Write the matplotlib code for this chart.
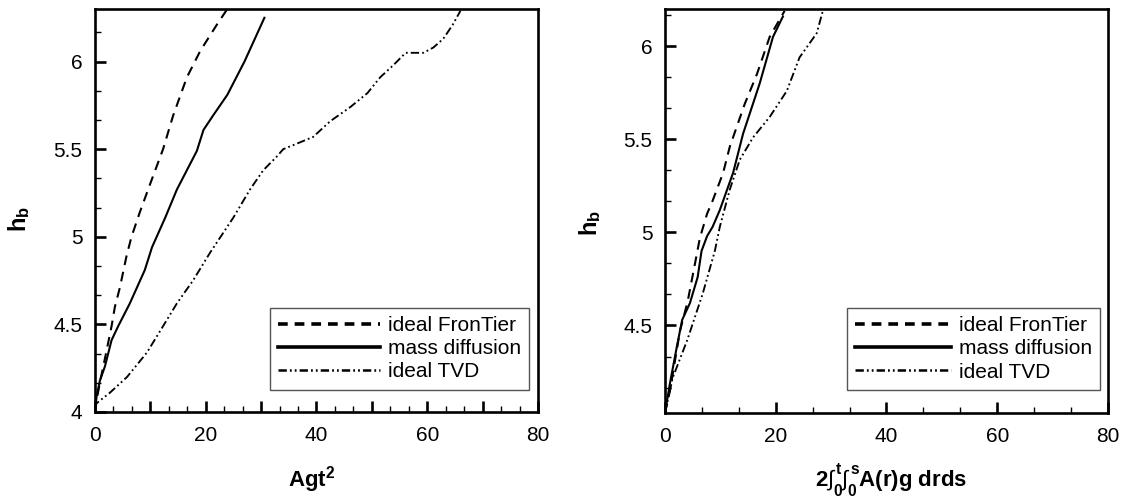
import matplotlib
matplotlib.use("Agg")
import matplotlib.pyplot as plt
from matplotlib.ticker import MultipleLocator, FuncFormatter
from matplotlib.lines import Line2D

plt.rcParams['font.family'] = ['Liberation Sans', 'DejaVu Sans']
plt.rcParams['mathtext.fontset'] = 'custom'
plt.rcParams['mathtext.rm'] = 'Liberation Sans'
plt.rcParams['mathtext.it'] = 'Liberation Sans:italic'
plt.rcParams['mathtext.bf'] = 'Liberation Sans:bold'
plt.rcParams['lines.scale_dashes'] = False

labels = ["ideal FronTier", "mass diffusion", "ideal TVD"]

# Left panel: h_b vs A g t^2
left_frontier_x = [0, 0.2, 0.9, 2.1, 3.0, 3.6, 4.5, 5.7, 6.6, 8.1, 10.3, 12.3, 14.1, 16.6, 19.0, 22.0, 23.9]
left_frontier_y = [4.0, 4.05, 4.17, 4.35, 4.49, 4.60, 4.71, 4.89, 5.00, 5.14, 5.33, 5.50, 5.69, 5.91, 6.06, 6.21, 6.30]
left_mass_x = [0, 0.3, 0.9, 1.8, 3.0, 4.2, 6.3, 9.0, 10.3, 12.7, 14.8, 16.6, 18.4, 19.6, 21.5, 23.9, 27.0, 30.6]
left_mass_y = [4.0, 4.09, 4.18, 4.26, 4.41, 4.49, 4.62, 4.81, 4.94, 5.11, 5.27, 5.38, 5.49, 5.61, 5.70, 5.81, 6.00, 6.25]
left_tvd_x = [0, 0.3, 2.7, 5.8, 9.4, 12.3, 14.8, 17.7, 20.8, 25.0, 28.0, 30.4, 32.9, 34.0, 37.1, 39.4, 42.5, 46.1,
              49.2, 51.5, 53.9, 56.1, 57.5, 59.3, 61.1, 62.9, 64.6, 66.0]
left_tvd_y = [4.02, 4.05, 4.11, 4.20, 4.34, 4.49, 4.62, 4.75, 4.91, 5.11, 5.27, 5.38, 5.46, 5.50, 5.54, 5.57, 5.66, 5.74,
              5.82, 5.91, 5.98, 6.05, 6.05, 6.05, 6.08, 6.13, 6.21, 6.29]

# Right panel: h_b vs 2 int int A(r) g dr ds
right_frontier_x = [0, 0.9, 2.7, 4.1, 5.4, 6.3, 7.6, 8.6, 10.5, 11.7, 14.4, 16.6, 18.9, 21.6]
right_frontier_y = [4.03, 4.15, 4.47, 4.63, 4.83, 4.97, 5.10, 5.17, 5.32, 5.46, 5.69, 5.85, 6.05, 6.19]
right_mass_x = [0, 0.9, 2.1, 3.1, 4.5, 5.9, 6.6, 7.6, 8.6, 9.9, 12.3, 14.1, 17.1, 19.5, 21.3]
right_mass_y = [4.03, 4.19, 4.38, 4.53, 4.62, 4.76, 4.90, 4.98, 5.03, 5.12, 5.32, 5.53, 5.80, 6.05, 6.16]
right_tvd_x = [0, 1.4, 4.0, 6.8, 9.0, 9.9, 11.7, 13.5, 15.9, 18.9, 22.0, 24.3, 27.4, 28.5]
right_tvd_y = [4.03, 4.22, 4.42, 4.67, 4.90, 5.03, 5.23, 5.39, 5.51, 5.62, 5.76, 5.94, 6.07, 6.19]

DASH = (0, (7, 5))
DASHDOT = (0, (6, 2.2, 1.3, 2.2, 1.3, 2.2))

fig = plt.figure(figsize=(11.25, 4.98), dpi=100)
axL = fig.add_axes([0.0844, 0.1727, 0.3938, 0.8092])
axR = fig.add_axes([0.5911, 0.1707, 0.3938, 0.8112])

lw = 1.5
axL.plot(left_frontier_x, left_frontier_y, color='black', lw=lw, linestyle=DASH)
axL.plot(left_mass_x, left_mass_y, color='black', lw=lw, linestyle='-')
axL.plot(left_tvd_x, left_tvd_y, color='black', lw=lw * 0.9, linestyle=DASHDOT)

axR.plot(right_frontier_x, right_frontier_y, color='black', lw=lw, linestyle=DASH)
axR.plot(right_mass_x, right_mass_y, color='black', lw=lw, linestyle='-')
axR.plot(right_tvd_x, right_tvd_y, color='black', lw=lw * 0.9, linestyle=DASHDOT)

axL.set_xlim(0, 80)
axL.set_ylim(4.0, 6.3)
axR.set_xlim(0, 80)
axR.set_ylim(4.03, 6.2)

axL.xaxis.set_major_locator(MultipleLocator(10))
axL.xaxis.set_minor_locator(MultipleLocator(10 / 3))
axL.xaxis.set_major_formatter(FuncFormatter(lambda v, p: ("%d" % round(v)) if round(v) % 20 == 0 else ""))
axR.xaxis.set_major_locator(MultipleLocator(20))
axR.xaxis.set_minor_locator(MultipleLocator(20 / 3))
axR.xaxis.set_major_formatter(FuncFormatter(lambda v, p: "%d" % round(v)))

yfmt = FuncFormatter(lambda v, p: ("%g" % round(v, 2)))
for ax in (axL, axR):
    ax.yaxis.set_major_locator(MultipleLocator(0.5))
    ax.yaxis.set_minor_locator(MultipleLocator(0.5 / 3))
    ax.yaxis.set_major_formatter(yfmt)
    for s in ax.spines.values():
        s.set_linewidth(1.9)
    ax.tick_params(which='major', direction='in', length=8, width=1.9, labelsize=15,
                   top=False, right=False)
    ax.tick_params(which='minor', direction='in', length=4, width=1.0, top=False, right=False)
    ax.tick_params(axis='x', which='major', pad=10)
    ax.tick_params(axis='y', which='major', pad=9)

axL.set_xlabel(r'$\mathbf{Agt^2}$', fontsize=16)
axL.set_ylabel(r'$\mathbf{h_b}$', fontsize=17)
axR.set_xlabel(r'$\mathbf{2}\int_{\mathbf{0}}^{\mathbf{t}}\int_{\mathbf{0}}^{\mathbf{s}}\mathbf{A(r)g\ drds}$', fontsize=16)
axR.set_ylabel(r'$\mathbf{h_b}$', fontsize=17)
axL.xaxis.set_label_coords(0.49, -0.13)
axR.xaxis.set_label_coords(0.51, -0.12)
axL.yaxis.set_label_coords(-0.142, 0.48)
axR.yaxis.set_label_coords(-0.14, 0.47)

handles = [Line2D([], [], color='black', lw=2.6, linestyle=(0, (7, 5))),
           Line2D([], [], color='black', lw=2.6, linestyle='-'),
           Line2D([], [], color='black', lw=1.8, linestyle=DASHDOT)]

for ax, anchor, hl in ((axL, (0.98, 0.055), 4.9), (axR, (0.982, 0.057), 4.6)):
    leg = ax.legend(handles, labels, loc='lower right', bbox_to_anchor=anchor, borderaxespad=0,
                    fontsize=15, handlelength=hl, handletextpad=0.35, labelspacing=0.2,
                    borderpad=0.4, fancybox=False, framealpha=1)
    leg.get_frame().set_edgecolor('#555555')
    leg.get_frame().set_linewidth(1.0)

fig.savefig('out.png', dpi=100)
